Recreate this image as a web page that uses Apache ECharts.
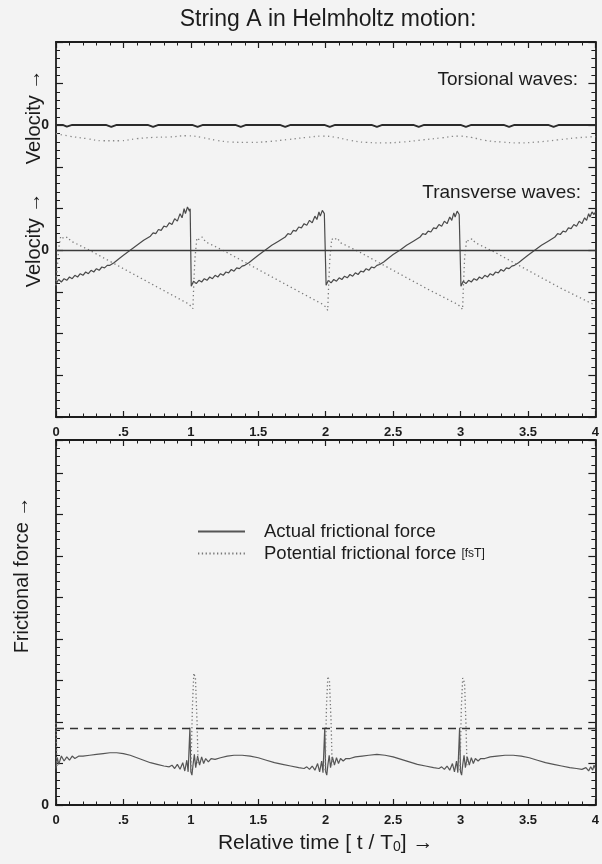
<!DOCTYPE html>
<html>
<head>
<meta charset="utf-8">
<script src="https://cdn.jsdelivr.net/npm/echarts@6/dist/echarts.min.js"></script>
<style>
html,body{margin:0;padding:0;background:#f3f3f3;}
#c{width:602px;height:864px;}
</style>
</head>
<body>
<div id="c"></div>
<script>
// ---------- data ----------
// x: relative time t/T0
const xTickLabels = {0:'0',0.5:'.5',1:'1',1.5:'1.5',2:'2',2.5:'2.5',3:'3',3.5:'3.5',4:'4'};

// Torsional waves (velocity, arbitrary units)
const torsT = [0,0.05,0.08,0.12,0.37,0.41,0.45,0.68,0.72,0.76,1.01,1.05,1.09,1.33,1.37,1.41,1.66,1.70,1.74,1.99,2.03,2.07,2.34,2.38,2.42,2.65,2.69,2.73,3.00,3.04,3.08,3.32,3.36,3.40,3.65,3.69,3.73,4.0];
const torsV = [0.05,0.05,-0.15,0.05,0.05,-0.18,0.05,0.05,-0.18,0.05,0.05,-0.18,0.05,0.05,-0.18,0.05,0.05,-0.18,0.05,0.05,-0.18,0.05,0.05,-0.18,0.05,0.05,-0.18,0.05,0.05,-0.18,0.05,0.05,-0.18,0.05,0.05,-0.18,0.05,0.05];
const torsDotT = [0,0.1,0.23,0.35,0.47,0.6,0.72,0.84,0.97,1.08,1.19,1.3,1.43,1.57,1.72,1.86,1.98,2.08,2.18,2.3,2.43,2.57,2.72,2.86,2.98,3.08,3.18,3.3,3.43,3.57,3.72,3.86,4.0];
const torsDotV = [-1.0,-1.3,-1.6,-1.85,-1.85,-1.6,-1.45,-1.4,-1.25,-1.45,-1.8,-2.0,-2.05,-1.95,-1.7,-1.45,-1.3,-1.45,-1.8,-2.05,-2.1,-2.0,-1.75,-1.5,-1.3,-1.45,-1.8,-2.0,-2.1,-2.0,-1.75,-1.5,-1.35];

// Transverse waves (velocity)
const transT = [
 0,0.005,0.02,0.04,0.06,0.08,0.10,0.12,0.14,0.16,0.18,0.20,0.22,0.24,0.26,0.28,0.30,0.32,0.34,0.36,0.38,0.40,0.43,0.46,0.50,0.55,0.60,0.65,0.70,0.72,0.74,0.76,0.78,0.80,0.82,0.84,0.86,0.88,0.90,0.92,0.935,0.95,0.96,0.975,0.99,0.995,
 1.003,1.02,1.04,1.06,1.08,1.10,1.12,1.14,1.16,1.18,1.20,1.22,1.24,1.26,1.28,1.30,1.32,1.34,1.36,1.38,1.40,1.43,1.46,1.50,1.55,1.60,1.65,1.70,1.72,1.74,1.76,1.78,1.80,1.82,1.84,1.86,1.88,1.90,1.92,1.935,1.95,1.96,1.975,1.99,1.995,
 2.003,2.02,2.04,2.06,2.08,2.10,2.12,2.14,2.16,2.18,2.20,2.22,2.24,2.26,2.28,2.30,2.32,2.34,2.36,2.38,2.40,2.43,2.46,2.50,2.55,2.60,2.65,2.70,2.72,2.74,2.76,2.78,2.80,2.82,2.84,2.86,2.88,2.90,2.92,2.935,2.95,2.96,2.975,2.99,2.995,
 3.003,3.02,3.04,3.06,3.08,3.10,3.12,3.14,3.16,3.18,3.20,3.22,3.24,3.26,3.28,3.30,3.32,3.34,3.36,3.38,3.40,3.43,3.46,3.50,3.55,3.60,3.65,3.70,3.72,3.74,3.76,3.78,3.80,3.82,3.84,3.86,3.88,3.90,3.92,3.935,3.95,3.96,3.975,3.99,4.0];
const transV = [
 -3.0,-3.9,-3.5,-3.8,-3.4,-3.6,-3.2,-3.4,-3.0,-3.2,-2.8,-3.0,-2.6,-2.8,-2.4,-2.6,-2.2,-2.4,-2.0,-2.1,-1.8,-1.8,-1.5,-1.1,-0.6,0.0,0.6,1.2,1.7,2.1,2.0,2.5,2.4,2.9,2.8,3.3,3.1,3.8,3.5,4.4,3.9,5.0,4.4,5.2,4.7,5.0,
 -4.3,-3.7,-4.0,-3.6,-3.8,-3.4,-3.6,-3.2,-3.4,-3.0,-3.2,-2.8,-3.0,-2.6,-2.7,-2.3,-2.5,-2.1,-2.2,-1.9,-1.8,-1.5,-1.1,-0.6,0.0,0.6,1.1,1.6,2.0,1.9,2.4,2.3,2.8,2.7,3.2,3.0,3.6,3.3,4.1,3.7,4.6,4.1,4.8,4.4,4.6,
 -4.2,-3.6,-3.9,-3.5,-3.7,-3.3,-3.5,-3.1,-3.3,-2.9,-3.1,-2.7,-2.9,-2.5,-2.6,-2.2,-2.4,-2.0,-2.1,-1.8,-1.7,-1.4,-1.0,-0.5,0.0,0.6,1.1,1.6,2.0,1.9,2.3,2.2,2.7,2.6,3.1,2.9,3.5,3.2,4.0,3.6,4.5,4.0,4.7,4.3,4.5,
 -4.3,-3.7,-4.0,-3.6,-3.8,-3.4,-3.6,-3.2,-3.4,-3.0,-3.2,-2.8,-3.0,-2.6,-2.7,-2.3,-2.5,-2.1,-2.2,-1.9,-1.8,-1.5,-1.1,-0.6,0.0,0.6,1.1,1.6,2.0,1.9,2.3,2.2,2.7,2.6,3.1,2.9,3.5,3.2,3.9,3.6,4.4,4.0,4.6,4.3,4.6];
const transDotT = [0,0.01,0.02,0.035,0.06,0.085,0.11,0.15,0.2,0.25,0.5,0.75,0.98,1.0,1.015,1.022,1.03,1.045,1.06,1.085,1.11,1.15,1.2,1.25,1.5,1.75,1.98,2.0,2.015,2.022,2.03,2.045,2.06,2.085,2.11,2.15,2.2,2.25,2.5,2.75,2.98,3.0,3.015,3.022,3.03,3.045,3.06,3.085,3.11,3.15,3.2,3.25,3.5,3.75,4.0];
const transDotV = [-4.2,-2.0,0.2,1.7,1.4,1.6,1.1,0.8,0.4,0.0,-2.2,-4.4,-6.4,-6.7,-7.0,-4.0,-1.0,1.5,1.3,1.6,1.0,0.7,0.3,-0.1,-2.3,-4.5,-6.5,-6.8,-7.2,-4.2,-1.2,1.4,1.2,1.5,0.9,0.6,0.2,-0.2,-2.4,-4.6,-6.5,-6.8,-7.1,-4.0,-1.0,1.3,1.1,1.4,0.9,0.6,0.2,-0.2,-2.4,-4.6,-6.6];

// Frictional force
const forceT = [
 0,0.01,0.02,0.04,0.06,0.08,0.10,0.12,0.14,0.17,0.20,0.25,0.30,0.35,0.40,0.45,0.50,0.55,0.60,0.65,0.70,0.75,0.80,0.84,0.86,0.88,0.90,0.92,0.94,0.955,0.97,0.98,0.99,0.993,0.996,
 1.0,1.008,1.016,1.026,1.036,1.05,1.065,1.08,1.095,1.11,1.13,1.15,1.18,1.22,1.27,1.32,1.38,1.44,1.50,1.56,1.62,1.68,1.74,1.80,1.84,1.86,1.88,1.90,1.92,1.94,1.955,1.97,1.98,1.99,1.993,1.996,
 2.0,2.008,2.016,2.026,2.036,2.05,2.065,2.08,2.095,2.11,2.13,2.15,2.18,2.22,2.27,2.32,2.38,2.44,2.50,2.56,2.62,2.68,2.74,2.80,2.84,2.86,2.88,2.90,2.92,2.94,2.955,2.97,2.98,2.99,2.993,2.996,
 3.0,3.008,3.016,3.026,3.036,3.05,3.065,3.08,3.095,3.11,3.13,3.15,3.18,3.22,3.27,3.33,3.39,3.45,3.51,3.57,3.63,3.69,3.75,3.81,3.86,3.90,3.93,3.95,3.965,3.98,3.99,4.0];
const forceV = [
 4.4,5.7,4.9,5.9,5.3,5.8,5.4,5.9,5.6,5.9,5.9,6.0,6.1,6.2,6.3,6.3,6.2,6.0,5.7,5.4,5.1,4.9,4.7,4.6,4.8,4.4,4.9,4.3,5.1,4.1,5.4,4.0,4.2,9.3,9.3,
 4.0,3.6,4.8,6.1,4.5,5.9,4.8,5.8,5.0,5.6,5.2,5.6,5.5,5.7,5.9,6.0,6.0,5.9,5.7,5.4,5.1,4.9,4.7,4.5,4.4,4.6,4.3,4.7,4.2,5.0,4.0,5.3,3.9,4.1,9.3,9.3,
 4.0,3.6,4.8,6.0,4.5,5.8,4.8,5.7,5.0,5.6,5.3,5.6,5.6,5.8,5.9,6.0,6.1,6.0,5.8,5.5,5.2,4.9,4.7,4.5,4.4,4.6,4.3,4.7,4.2,5.0,4.0,5.3,3.9,4.1,9.3,9.3,
 4.0,3.6,4.8,6.0,4.5,5.8,4.8,5.7,5.0,5.6,5.3,5.6,5.6,5.8,5.9,6.0,6.0,5.9,5.7,5.4,5.1,4.9,4.7,4.5,4.4,4.3,4.5,4.1,4.6,4.2,4.8,4.4];
const potT = [0,0.008,0.5,1.0,1.012,1.022,1.034,1.046,1.054,1.5,1.996,2.006,2.016,2.028,2.04,2.048,2.5,2.996,3.006,3.016,3.03,3.04,3.048];
const potV = [9.9,4.6,null,4.2,12.0,15.9,15.3,10.0,4.8,null,4.2,12.0,15.5,14.9,10.0,4.8,null,4.2,11.8,15.3,14.7,9.8,4.8];
const staticLevel = 9.3; // dashed level

// ---------- build ----------
function zip(t, v){ const n=Math.min(t.length,v.length), out=[]; for(let i=0;i<n;i++) out.push([t[i], v[i]===null?'-':v[i]]); return out; }
const FONT = '"Liberation Sans", Arial, Helvetica, sans-serif';
const INK = '#1c1c1c';

function xAx(gridIndex, position, labels){
  return {type:'value', gridIndex, position, min:0, max:4, interval:0.5,
    axisLine:{show:true, onZero:false, lineStyle:{color:INK, width:1.8}},
    axisTick:{show:true, inside:true, length:6, lineStyle:{color:INK, width:1.2}},
    minorTick:{show:true, splitNumber:5, length:3.5, lineStyle:{color:INK, width:1}},
    splitLine:{show:false}, minorSplitLine:{show:false},
    axisLabel:{show:labels, margin:9, color:INK, fontFamily:FONT, fontWeight:'bold', fontSize:13,
      showMinLabel:true, showMaxLabel:true,
      formatter:v=> (xTickLabels[v]!==undefined ? xTickLabels[v] : '')}};
}
function yAx(gridIndex, position, min, max, labelFn){
  return {type:'value', gridIndex, position, min, max, interval:5,
    axisLine:{show:true, onZero:false, lineStyle:{color:INK, width:1.8}},
    axisTick:{show:true, inside:true, length:7, lineStyle:{color:INK, width:1.2}},
    minorTick:{show:true, splitNumber:5, length:4, lineStyle:{color:INK, width:1}},
    splitLine:{show:false}, minorSplitLine:{show:false},
    axisLabel:{show:!!labelFn, margin:7, color:INK, fontFamily:FONT, fontWeight:'bold', fontSize:14,
      showMinLabel:true, showMaxLabel:true, formatter: labelFn || (()=> '')}};
}

const chart = echarts.init(document.getElementById('c'), null, {renderer:'canvas'});
chart.setOption({
  backgroundColor:'#f3f3f3',
  animation:false,
  grid:[
    {left:56, top:42, width:540, height:375},
    {left:56, top:440, width:540, height:365}
  ],
  xAxis:[
    xAx(0,'bottom',true), xAx(0,'top',false),
    Object.assign(xAx(1,'bottom',true), {name:'Relative time [ t / T{s|0}] →', nameLocation:'middle', nameGap:28,
      nameTextStyle:{color:INK, fontFamily:FONT, fontSize:21, rich:{s:{fontSize:14, fontFamily:FONT, color:INK, verticalAlign:'bottom'}}}}),
    xAx(1,'top',false)
  ],
  yAxis:[
    yAx(0,'left',-20,25, v=> (v===0||v===15)?'0':''),
    yAx(0,'right',-35,10,null),
    yAx(1,'left',0,44, v=> v===0?'0':''),
    yAx(1,'right',0,44,null)
  ],
  legend:{
    data:['Actual frictional force','Potential frictional force'],
    orient:'vertical', left:192, top:517, itemWidth:47, itemHeight:12, itemGap:3,
    selectedMode:false,
    itemStyle:{opacity:0, borderWidth:0},
    textStyle:{color:INK, fontFamily:FONT, fontSize:18.5, padding:[0,0,0,14],
      rich:{s:{fontSize:12, fontFamily:FONT, color:INK}}},
    formatter:n=> n==='Potential frictional force' ? n+' {s|[fsT]}' : n
  },
  graphic:[
    {type:'text', x:328, y:20, style:{text:'String A in Helmholtz motion:', font:'23px '+FONT, fill:INK, align:'center', verticalAlign:'middle'}},
    {type:'text', x:578, y:80, style:{text:'Torsional waves:', font:'19px '+FONT, fill:INK, align:'right', verticalAlign:'middle'}},
    {type:'text', x:581, y:193, style:{text:'Transverse waves:', font:'19px '+FONT, fill:INK, align:'right', verticalAlign:'middle'}},
    {type:'text', x:34, y:117, rotation:Math.PI/2, style:{text:'Velocity →', font:'20px '+FONT, fill:INK, align:'center', verticalAlign:'middle'}},
    {type:'text', x:34, y:240, rotation:Math.PI/2, style:{text:'Velocity →', font:'20px '+FONT, fill:INK, align:'center', verticalAlign:'middle'}},
    {type:'text', x:22, y:575, rotation:Math.PI/2, style:{text:'Frictional force →', font:'20px '+FONT, fill:INK, align:'center', verticalAlign:'middle'}}
  ],
  series:[
    {name:'Torsional', type:'line', xAxisIndex:0, yAxisIndex:1, data:zip(torsT,torsV), symbol:'none', smooth:false,
      lineStyle:{color:'#2a2a2a', width:2}},
    {name:'Torsional dotted', type:'line', xAxisIndex:0, yAxisIndex:1, data:zip(torsDotT,torsDotV), symbol:'none', smooth:true,
      lineStyle:{color:'#8a8a8a', width:1.3, type:[1.3,3.5]}},
    {name:'Transverse', type:'line', xAxisIndex:0, yAxisIndex:0, data:zip(transT,transV), symbol:'none',
      lineStyle:{color:'#4a4a4a', width:1.2},
      markLine:{silent:true, symbol:'none', label:{show:false}, lineStyle:{color:'#3a3a3a', width:1.4, type:'solid'}, data:[{yAxis:0}]}},
    {name:'Transverse dotted', type:'line', xAxisIndex:0, yAxisIndex:0, data:zip(transDotT,transDotV), symbol:'none',
      lineStyle:{color:'#7a7a7a', width:1.3, type:[1.3,3]}},
    {name:'Actual frictional force', type:'line', xAxisIndex:2, yAxisIndex:2, data:zip(forceT,forceV), symbol:'none',
      lineStyle:{color:'#555555', width:1.2}, itemStyle:{color:'#555555'},
      markLine:{silent:true, symbol:'none', label:{show:false}, lineStyle:{color:'#333333', width:1.3, type:[8,6]}, data:[{yAxis:staticLevel}]}},
    {name:'Potential frictional force', type:'line', xAxisIndex:2, yAxisIndex:2, data:zip(potT,potV), symbol:'none', connectNulls:false,
      lineStyle:{color:'#777777', width:1.3, type:[1.3,2.5]}, itemStyle:{color:'#777777'}}
  ]
});
</script>
</body>
</html>
